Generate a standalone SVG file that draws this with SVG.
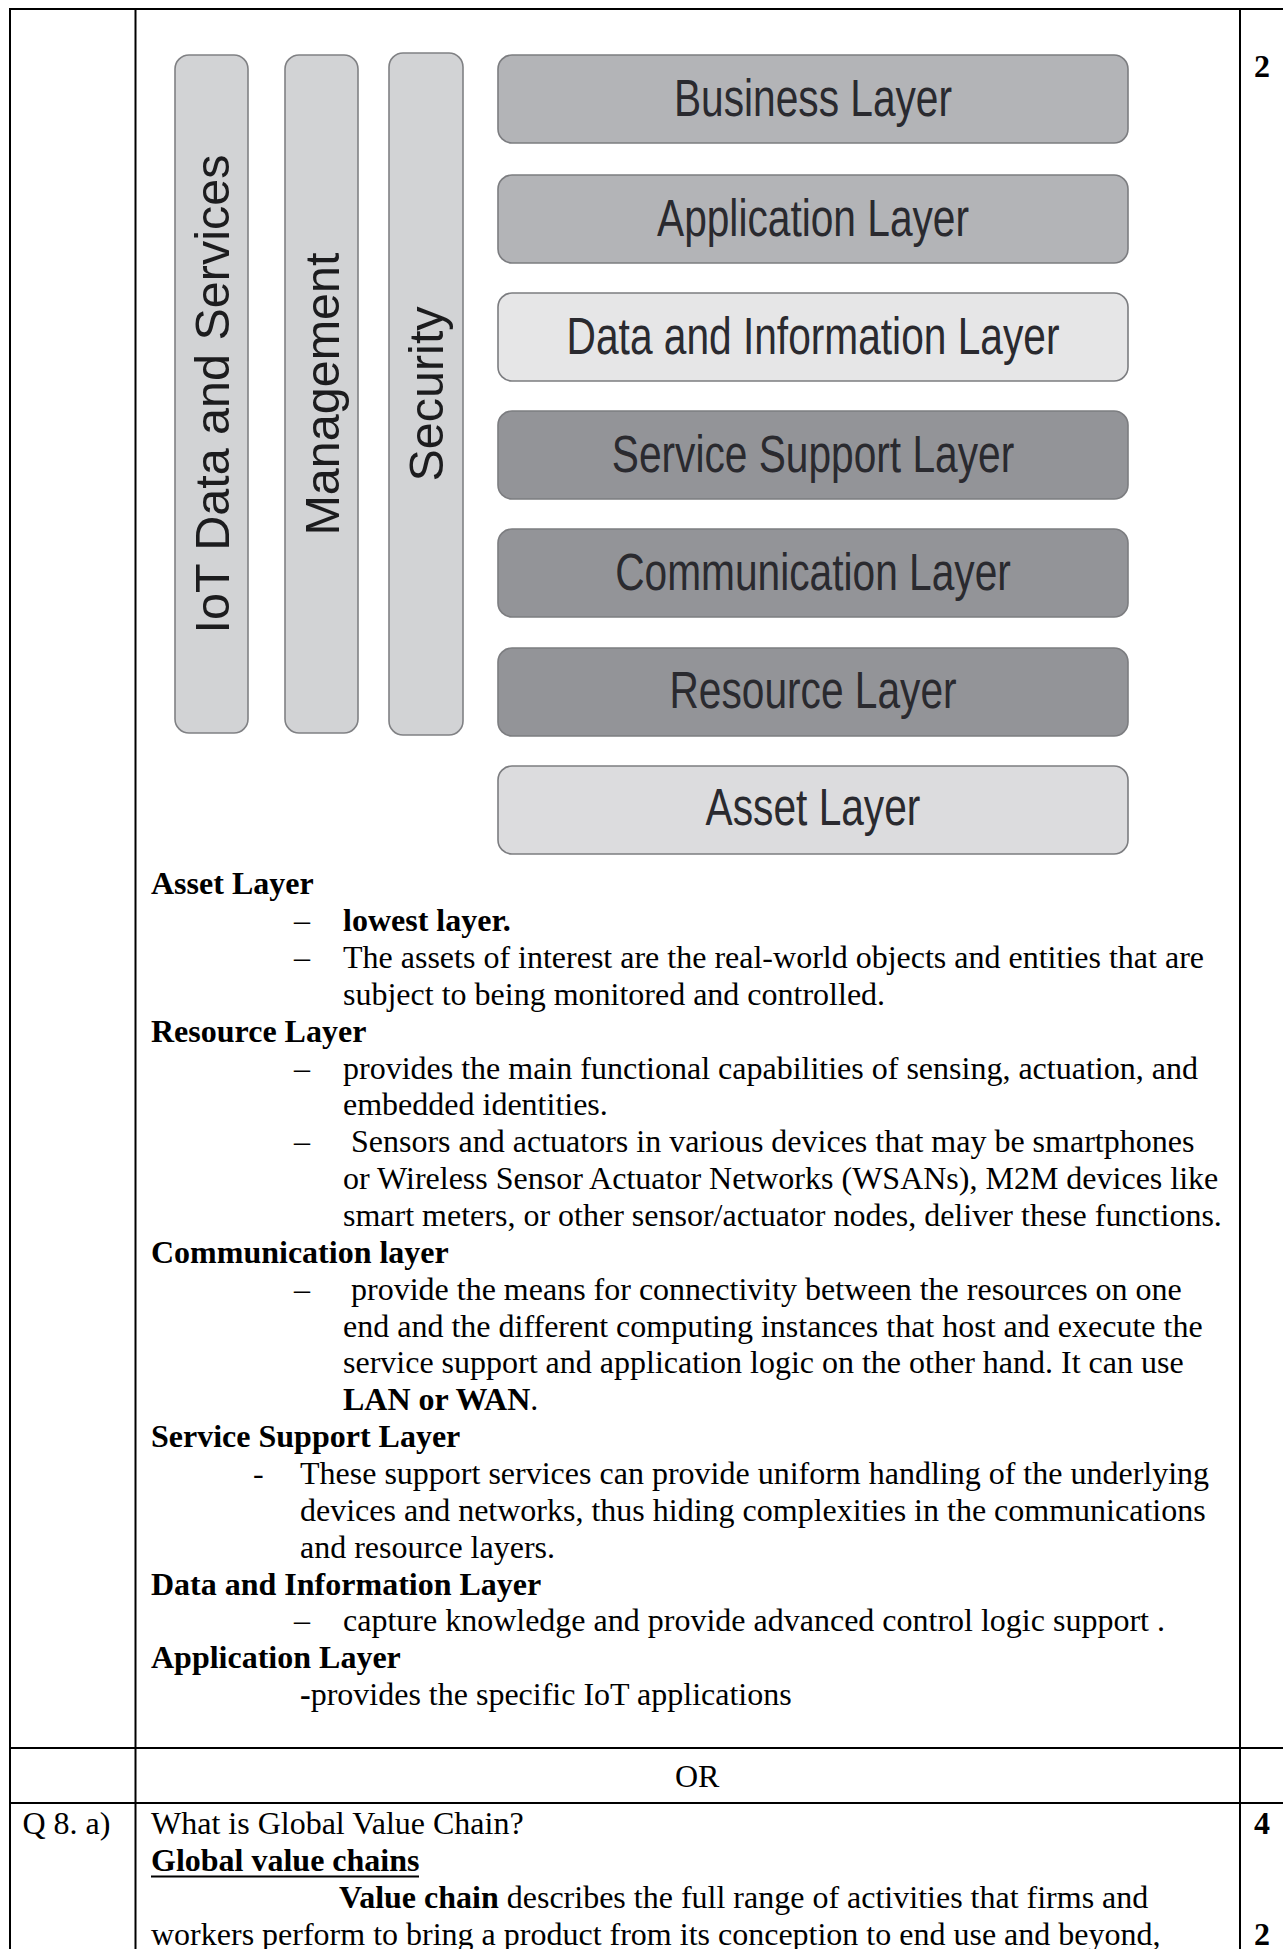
<svg xmlns="http://www.w3.org/2000/svg" width="1283" height="1949" viewBox="0 0 1283 1949">
  <style>
    .grid { stroke: #000; stroke-width: 2; fill: none; }
    .bar { fill: #d2d3d5; stroke: #808184; stroke-width: 1.6; }
    .lyr { stroke: #7c7d80; stroke-width: 1.6; }
    .biz { fill: #b3b4b7; }
    .info { fill: #e6e6e7; }
    .dark { fill: #939498; }
    .asset { fill: #dcdcde; }
    .lt { font-family: "Liberation Sans", Arial, sans-serif; font-size: 51.5px; fill: #2a2a2f; text-anchor: middle; }
    .vt { font-family: "Liberation Sans", Arial, sans-serif; font-size: 48.5px; fill: #1c1c1e; text-anchor: middle; }
    .t { font-family: "Liberation Serif", "Times New Roman", serif; font-size: 32px; fill: #000; white-space: pre; }
    .b { font-weight: bold; }
  </style>

  <rect width="1283" height="1949" fill="#fff"/>

  <!-- table rules -->
  <g id="table-grid" class="grid">
    <line x1="9" y1="9" x2="1283" y2="9"/>
    <line x1="10" y1="8" x2="10" y2="1949"/>
    <line x1="135.5" y1="8" x2="135.5" y2="1949"/>
    <line x1="1240" y1="8" x2="1240" y2="1949"/>
    <line x1="9" y1="1748" x2="1283" y2="1748"/>
    <line x1="9" y1="1803" x2="1283" y2="1803"/>
  </g>

  <!-- cross-cutting vertical pillars -->
  <g id="pillar-iot-data">
    <rect class="bar" x="175" y="55" width="73" height="678" rx="14"/>
    <text class="vt" transform="translate(229,394) rotate(-90)">IoT Data and Services</text>
  </g>
  <g id="pillar-management">
    <rect class="bar" x="285" y="55" width="73" height="678" rx="14"/>
    <text class="vt" transform="translate(339,394) rotate(-90)">Management</text>
  </g>
  <g id="pillar-security">
    <rect class="bar" x="389" y="53" width="74" height="682" rx="14"/>
    <text class="vt" transform="translate(443,394) rotate(-90)">Security</text>
  </g>

  <!-- layer stack, top to bottom (labels set in a narrow face) -->
  <g id="layer-business">
    <rect class="lyr biz" x="498" y="55" width="630" height="88" rx="14"/>
    <text class="lt" transform="translate(813,116) scale(0.79,1)">Business Layer</text>
  </g>
  <g id="layer-application">
    <rect class="lyr biz" x="498" y="175" width="630" height="88" rx="14"/>
    <text class="lt" transform="translate(813,235.5) scale(0.79,1)">Application Layer</text>
  </g>
  <g id="layer-data-information">
    <rect class="lyr info" x="498" y="293" width="630" height="88" rx="14"/>
    <text class="lt" transform="translate(813,353.5) scale(0.79,1)">Data and Information Layer</text>
  </g>
  <g id="layer-service-support">
    <rect class="lyr dark" x="498" y="411" width="630" height="88" rx="14"/>
    <text class="lt" transform="translate(813,471.5) scale(0.79,1)">Service Support Layer</text>
  </g>
  <g id="layer-communication">
    <rect class="lyr dark" x="498" y="529" width="630" height="88" rx="14"/>
    <text class="lt" transform="translate(813,589.5) scale(0.79,1)">Communication Layer</text>
  </g>
  <g id="layer-resource">
    <rect class="lyr dark" x="498" y="648" width="630" height="88" rx="14"/>
    <text class="lt" transform="translate(813,708) scale(0.79,1)">Resource Layer</text>
  </g>
  <g id="layer-asset">
    <rect class="lyr asset" x="498" y="766" width="630" height="88" rx="14"/>
    <text class="lt" transform="translate(813,825) scale(0.79,1)">Asset Layer</text>
  </g>

  <!-- connectors: none in this figure -->
  <g id="connectors"/>

  <!-- marks column -->
  <g id="marks" class="t b">
    <text x="1254" y="77">2</text>
    <text x="1254" y="1834.3">4</text>
    <text x="1254" y="1944.9">2</text>
  </g>

  <!-- explanatory text -->
  <g id="layer-notes" class="t">
    <text class="b" x="151" y="894.3">Asset Layer</text>
    <text x="294" y="931.2">–</text>
    <text class="b" x="343" y="931.2">lowest layer.</text>
    <text x="294" y="968">–</text>
    <text x="343" y="968">The assets of interest are the real-world objects and entities that are</text>
    <text x="343" y="1004.9">subject to being monitored and controlled.</text>

    <text class="b" x="151" y="1041.7">Resource Layer</text>
    <text x="294" y="1078.6">–</text>
    <text x="343" y="1078.6">provides the main functional capabilities of sensing, actuation, and</text>
    <text x="343" y="1115.4">embedded identities.</text>
    <text x="294" y="1152.3">–</text>
    <text x="351" y="1152.3">Sensors and actuators in various devices that may be smartphones</text>
    <text x="343" y="1189.1">or Wireless Sensor Actuator Networks (WSANs), M2M devices like</text>
    <text x="343" y="1226">smart meters, or other sensor/actuator nodes, deliver these functions.</text>

    <text class="b" x="151" y="1262.8">Communication layer</text>
    <text x="294" y="1299.7">–</text>
    <text x="351" y="1299.7">provide the means for connectivity between the resources on one</text>
    <text x="343" y="1336.5">end and the different  computing instances that host and execute the</text>
    <text x="343" y="1373.4">service support and application logic on the other hand. It can use</text>
    <text x="343" y="1410.2"><tspan class="b">LAN or WAN</tspan>.</text>

    <text class="b" x="151" y="1447.1">Service Support Layer</text>
    <text x="253" y="1483.9">-</text>
    <text x="300" y="1483.9">These support services can provide uniform handling of the underlying</text>
    <text x="300" y="1520.8">devices and networks, thus hiding complexities in the communications</text>
    <text x="300" y="1557.6">and resource layers.</text>

    <text class="b" x="151" y="1594.5">Data and Information Layer</text>
    <text x="294" y="1631.3">–</text>
    <text x="343" y="1631.3">capture knowledge and provide advanced control logic support .</text>

    <text class="b" x="151" y="1668.2">Application Layer</text>
    <text x="300" y="1705"><tspan class="b">-</tspan>provides the specific IoT applications</text>
  </g>

  <g id="or-row" class="t">
    <text x="675" y="1786.5">OR</text>
  </g>

  <g id="question-8a" class="t">
    <text x="22.5" y="1834.3">Q 8. a)</text>
    <text x="151" y="1834.3">What is Global Value Chain?</text>
    <text class="b" x="151" y="1871.2">Global value chains</text>
    <rect x="151" y="1875.5" width="268" height="2" fill="#000"/>
    <text x="339" y="1908"><tspan class="b">Value chain</tspan> describes the full range of activities that firms and</text>
    <text x="151" y="1944.9">workers perform to bring a product from its conception to end use and beyond,</text>
  </g>
</svg>
